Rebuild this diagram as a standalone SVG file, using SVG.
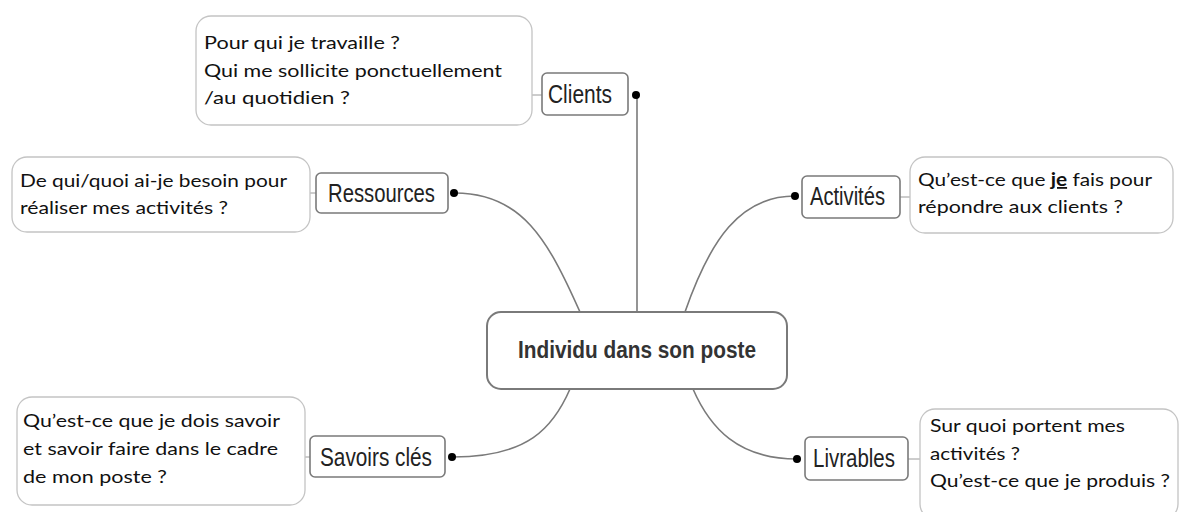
<svg xmlns="http://www.w3.org/2000/svg" width="1181" height="512" viewBox="0 0 1181 512">
<style>
.q{fill:#fff;stroke:#c4c4c4;stroke-width:1.3}
.lb{fill:#fff;stroke:#7a7a7a;stroke-width:1.6}
.qt{font-family:Lato,"Open Sans",sans-serif;font-size:18px;fill:#111}
.lt{font-family:"Liberation Sans",Arial,sans-serif;font-size:25px;fill:#222}
.ct{font-family:"Liberation Sans",Arial,sans-serif;font-size:23px;font-weight:bold;fill:#333}
.cn{fill:none;stroke:#7a7a7a;stroke-width:1.6}
.tk{fill:none;stroke:#9a9a9a;stroke-width:1}
.dot{fill:#000}
</style>
<rect width="1181" height="512" fill="#fff"/>
<g id="connectors">
<path class="cn" d="M637,95 L637,312"/>
<path class="cn" d="M455,193 C522,193 548,240 580,312"/>
<path class="cn" d="M795,196 C740,196 710,240 685,312"/>
<path class="cn" d="M570,389 C553,428 528,457 453,457"/>
<path class="cn" d="M693,389 C710,428 738,459 797,459"/>
<path class="tk" d="M532,95 L542,95"/>
<path class="tk" d="M310,193 L316,193"/>
<path class="tk" d="M900,197 L910,197"/>
<path class="tk" d="M305,457 L310,457"/>
<path class="tk" d="M908,459 L920,459"/>
<circle class="dot" cx="636" cy="95" r="4"/>
<circle class="dot" cx="454" cy="193" r="4"/>
<circle class="dot" cx="795" cy="196" r="4"/>
<circle class="dot" cx="452" cy="457" r="4"/>
<circle class="dot" cx="797" cy="459" r="4"/>
</g>
<g id="center">
<rect x="487" y="312" width="300" height="77" rx="14" fill="#fff" stroke="#7a7a7a" stroke-width="2"/>
<text class="ct" x="637" y="358" text-anchor="middle" textLength="238" lengthAdjust="spacingAndGlyphs">Individu dans son poste</text>
</g>
<g id="clients">
<rect class="q" x="196" y="16" width="336" height="109" rx="15"/>
<text class="qt" x="204" y="49" textLength="196" lengthAdjust="spacingAndGlyphs">Pour qui je travaille ?</text>
<text class="qt" x="204" y="77" textLength="298" lengthAdjust="spacingAndGlyphs">Qui me sollicite ponctuellement</text>
<text class="qt" x="204" y="104" textLength="146" lengthAdjust="spacingAndGlyphs">/au quotidien ?</text>
<rect class="lb" x="542" y="73" width="86" height="42" rx="5"/>
<text class="lt" x="548" y="103" textLength="64" lengthAdjust="spacingAndGlyphs">Clients</text>
</g>
<g id="ressources">
<rect class="q" x="12" y="157" width="298" height="75" rx="15"/>
<text class="qt" x="20" y="187" textLength="267" lengthAdjust="spacingAndGlyphs">De qui/quoi ai-je besoin pour</text>
<text class="qt" x="20" y="214" textLength="208" lengthAdjust="spacingAndGlyphs">réaliser mes activités ?</text>
<rect class="lb" x="316" y="173" width="132" height="40" rx="5"/>
<text class="lt" x="328" y="202" textLength="107" lengthAdjust="spacingAndGlyphs">Ressources</text>
</g>
<g id="activites">
<rect class="lb" x="802" y="176" width="98" height="42" rx="5"/>
<text class="lt" x="810" y="205" textLength="75" lengthAdjust="spacingAndGlyphs">Activités</text>
<rect class="q" x="910" y="157" width="263" height="76" rx="15"/>
<text class="qt" x="918" y="186" textLength="234" lengthAdjust="spacingAndGlyphs">Qu’est-ce que <tspan font-weight="bold" text-decoration="underline">je</tspan> fais pour</text>
<text class="qt" x="918" y="213" textLength="205" lengthAdjust="spacingAndGlyphs">répondre aux clients ?</text>
</g>
<g id="savoirs">
<rect class="q" x="17" y="397" width="288" height="108" rx="15"/>
<text class="qt" x="23" y="427" textLength="257" lengthAdjust="spacingAndGlyphs">Qu’est-ce que je dois savoir</text>
<text class="qt" x="23" y="455" textLength="255" lengthAdjust="spacingAndGlyphs">et savoir faire dans le cadre</text>
<text class="qt" x="23" y="483" textLength="144" lengthAdjust="spacingAndGlyphs">de mon poste ?</text>
<rect class="lb" x="310" y="436" width="135" height="41" rx="5"/>
<text class="lt" x="320" y="466" textLength="112" lengthAdjust="spacingAndGlyphs">Savoirs clés</text>
</g>
<g id="livrables">
<rect class="lb" x="805" y="437" width="103" height="43" rx="5"/>
<text class="lt" x="813" y="467" textLength="82" lengthAdjust="spacingAndGlyphs">Livrables</text>
<rect class="q" x="920" y="409" width="258" height="110" rx="15"/>
<text class="qt" x="930" y="432" textLength="195" lengthAdjust="spacingAndGlyphs">Sur quoi portent mes</text>
<text class="qt" x="930" y="460" textLength="90" lengthAdjust="spacingAndGlyphs">activités ?</text>
<text class="qt" x="930" y="487" textLength="240" lengthAdjust="spacingAndGlyphs">Qu’est-ce que je produis ?</text>
</g>
</svg>
